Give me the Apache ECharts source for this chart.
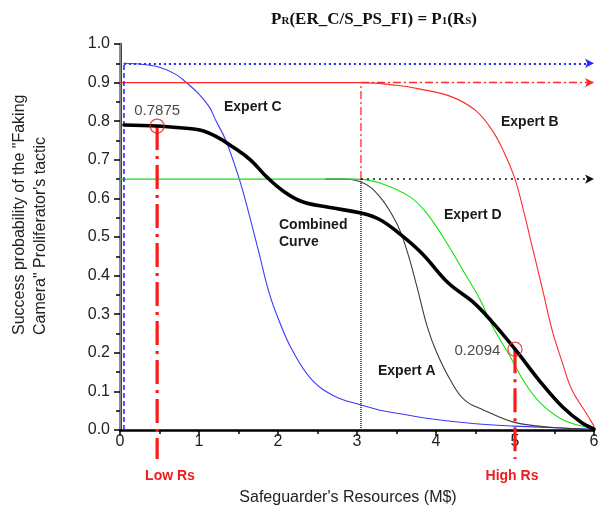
<!DOCTYPE html>
<html><head><meta charset="utf-8">
<script src="https://cdn.jsdelivr.net/npm/echarts@6/dist/echarts.min.js"></script>
<style>html,body{margin:0;padding:0;background:#fff}#c{width:602px;height:510px}</style>
</head><body><div id="c"></div>
<script>
// ---- data ----
const xTicks = [0, 1, 2, 3, 4, 5, 6];
const yTicks = [0, 0.1, 0.2, 0.3, 0.4, 0.5, 0.6, 0.7, 0.8, 0.9, 1.0];

const expertC_x = [0.05,0.3,0.5,0.7,0.83,1.0,1.13,1.21,1.34,1.51,1.63,1.76,1.89,2.01,2.18,2.43,2.73,3.05,3.28,3.6,4.0,4.5,5.0,5.5,6.0];
const expertC_y = [0.95,0.947,0.94,0.922,0.902,0.87,0.837,0.803,0.75,0.65,0.562,0.458,0.354,0.285,0.207,0.13,0.086,0.065,0.052,0.04,0.027,0.016,0.01,0.006,0.002];

const expertB_x = [0,3.05,3.5,3.8,4.2,4.5,4.71,4.86,5.0,5.1,5.2,5.35,5.47,5.6,5.72,5.9,6.0];
const expertB_y = [0.9,0.9,0.893,0.883,0.863,0.828,0.777,0.72,0.65,0.575,0.49,0.363,0.259,0.174,0.104,0.044,0.01];

const expertD_x = [0,3.0,3.29,3.67,3.88,4.09,4.34,4.56,4.72,4.94,5.1,5.32,5.61,5.95,6.0];
const expertD_y = [0.65,0.65,0.64,0.604,0.562,0.5,0.414,0.337,0.267,0.19,0.13,0.07,0.026,0.005,0.003];

const expertA_x = [2.6,2.78,3.06,3.29,3.5,3.63,3.76,3.89,4.01,4.18,4.36,4.6,4.97,5.3,5.6,6.0];
const expertA_y = [0.65,0.65,0.642,0.604,0.536,0.466,0.37,0.267,0.2,0.13,0.078,0.052,0.021,0.01,0.005,0.001];

const combined_x = [0.05,0.47,0.76,1.01,1.22,1.43,1.65,1.86,2.06,2.3,2.64,3.05,3.28,3.53,3.82,4.16,4.46,4.71,5.0,5.3,5.6,5.85,6.0];
const combined_y = [0.79,0.7875,0.783,0.777,0.76,0.733,0.70,0.655,0.62,0.592,0.577,0.562,0.546,0.51,0.458,0.38,0.333,0.28,0.2094,0.13,0.06,0.018,0.003];

// reference levels / points
const rsMarks = [0.47, 5.0];          // Low Rs, High Rs
const pMarks = [0.7875, 0.2094];      // combined curve values there
const rsNames = ['Low Rs', 'High Rs'];
const capLevels = [0.95, 0.9, 0.65];  // Expert C, Expert B, Expert D / A plateaus
const capStarts = [0.05, 3.05, 3.05];
const xMax = 6;
const belowAxis = -0.075;

const zip = (xs, ys) => xs.map((x, i) => [x, ys[i]]);
const F = '"Liberation Sans", Arial, sans-serif';
const chart = echarts.init(document.getElementById('c'), null, {renderer: 'canvas'});

function curve(name, xs, ys, color, width, z) {
  return {name, type: 'line', data: zip(xs, ys), smooth: 0.4,
    showSymbol: false, symbol: 'none', lineStyle: {color, width, cap: 'round', join: 'round'},
    z: z || 2, silent: true, animation: false};
}
function guide(points, color, width, type, arrowLevel) {
  const s = {type: 'line', data: points, symbol: 'none', showSymbol: false, clip: false,
    lineStyle: {color, width, type, cap: 'butt'}, z: 3, silent: true, animation: false};
  if (arrowLevel !== undefined) {
    s.markLine = {silent: true, animation: false, symbol: ['none', 'arrow'], symbolSize: [7, 9],
      label: {show: false}, lineStyle: {color, width, type},
      data: [[{coord: [points[0][0], arrowLevel]}, {coord: [xMax, arrowLevel]}]]};
  }
  return s;
}

const series = [
  curve('Expert C', expertC_x, expertC_y, '#3a3aff', 1.1),
  curve('Expert B', expertB_x, expertB_y, '#ff2a2a', 1.1),
  curve('Expert A', expertA_x, expertA_y, '#3c3c3c', 1.1),
  curve('Expert D', expertD_x, expertD_y, '#11e011', 1.1),
  curve('Combined', combined_x, combined_y, '#000000', 3.6, 4),
  guide([[capStarts[0], 0], [capStarts[0], capLevels[0]]], '#2a2aff', 1.6, [5, 3]),
  guide([[capStarts[0], capLevels[0]]], '#2a2aff', 2, [2, 3], capLevels[0]),
  guide([[capStarts[1], capLevels[2]], [capStarts[1], capLevels[1]]], '#ff2a2a', 1.3, [8, 3, 2, 3]),
  guide([[capStarts[1], capLevels[1]]], '#ff2a2a', 1.3, [8, 3, 2, 3], capLevels[1]),
  guide([[capStarts[2], 0], [capStarts[2], capLevels[2]]], '#333333', 1.6, [1, 1]),
  guide([[capStarts[2], capLevels[2]]], '#111111', 1.5, [2, 4], capLevels[2]),
  guide([[rsMarks[0], pMarks[0]], [rsMarks[0], belowAxis]], '#ff1a1a', 3.2, [24, 6, 3, 6]),
  guide([[rsMarks[1], pMarks[1]], [rsMarks[1], belowAxis]], '#ff1a1a', 3.2, [24, 6, 3, 6]),
  {type: 'scatter', symbol: 'circle', symbolSize: 14, z: 6, silent: true, animation: false, clip: false,
    itemStyle: {color: 'rgba(255,255,255,0)', borderColor: '#e82020', borderWidth: 1.3},
    data: [
      {value: [rsMarks[0], pMarks[0]], label: {show: true, position: 'top', distance: 0,
        formatter: String(pMarks[0]), fontSize: 15, fontFamily: F, color: '#1a1a1a'}},
      {value: [rsMarks[1], pMarks[1]], label: {show: true, position: 'left', distance: 7, offset: [0, 2],
        formatter: String(pMarks[1]), fontSize: 15, fontFamily: F, color: '#1a1a1a'}}
    ]}
];

function txt(text, x, y, opt) {
  opt = opt || {};
  return {type: 'text', x, y, z: 100, silent: true, rotation: opt.rotation || 0,
    style: Object.assign({text, fill: opt.fill || '#1a1a1a',
      font: opt.font || ('bold 14px ' + F),
      align: opt.align || 'left', verticalAlign: opt.va || 'middle',
      textAlign: opt.align || 'left', textVerticalAlign: opt.va || 'middle'}, opt.extra || {})};
}

const graphic = [
  {type: 'text', x: 374, y: 18, z: 100, silent: true,
    style: {text: '{b|P}{s|R}{b|(ER_C/S_PS_FI) = P}{s|1}{b|(R}{s|S}{b|)}',
      align: 'center', verticalAlign: 'middle', textAlign: 'center', textVerticalAlign: 'middle',
      fill: '#111',
      rich: {
        b: {font: 'bold 17px "Liberation Serif", "Times New Roman", serif', fill: '#111', verticalAlign: 'bottom', lineHeight: 20},
        s: {font: 'bold 11px "Liberation Serif", "Times New Roman", serif', fill: '#111', verticalAlign: 'bottom', lineHeight: 20, padding: [0, 0, 1, 0]}
      }}},
  txt('Success probability of the "Faking\nCamera" Proliferator\'s tactic', 30.5, 335,
    {rotation: Math.PI / 2, font: '16px ' + F, fill: '#222', extra: {lineHeight: 21}}),
  txt("Safeguarder's Resources (M$)", 348, 498, {align: 'center', font: '16px ' + F, fill: '#222'}),
  txt('Expert C', 224, 107),
  txt('Expert B', 501, 122),
  txt('Expert D', 444, 215),
  txt('Expert A', 378, 371),
  txt('Combined', 279, 225),
  txt('Curve', 279, 242),
  txt(rsNames[0], 170, 476, {align: 'center', fill: '#ee1c1c'}),
  txt(rsNames[1], 512, 476, {align: 'center', fill: '#ee1c1c'})
];

const option = {
  animation: false,
  backgroundColor: '#ffffff',
  grid: {left: 120, right: 8, top: 44, bottom: 80, containLabel: false},
  xAxis: {type: 'value', min: xTicks[0], max: xTicks[xTicks.length - 1], interval: 1,
    axisLine: {show: true, onZero: false, lineStyle: {color: '#000', width: 2.5}},
    axisTick: {show: true, inside: false, length: 6, lineStyle: {color: '#000', width: 1.5}},
    minorTick: {show: true, splitNumber: 2, length: 4, lineStyle: {color: '#000', width: 1.5}},
    axisLabel: {fontSize: 16, fontFamily: F, color: '#222', margin: 4},
    splitLine: {show: false}},
  yAxis: [
    {type: 'value', min: yTicks[0], max: yTicks[yTicks.length - 1], interval: 0.1,
      axisLine: {show: true, onZero: false, lineStyle: {color: '#000', width: 2.5}},
      axisTick: {show: true, inside: false, length: 6, lineStyle: {color: '#000', width: 1.5}},
      minorTick: {show: true, splitNumber: 2, length: 4, lineStyle: {color: '#000', width: 1.5}},
      axisLabel: {fontSize: 16, fontFamily: F, color: '#222', margin: 10,
        formatter: v => v.toFixed(1)},
      splitLine: {show: false}},
    {type: 'value', position: 'right', offset: 3, min: 0, max: 1,
      axisLine: {show: true, lineStyle: {color: '#8a8a8a', width: 2}},
      axisTick: {show: false}, axisLabel: {show: false}, splitLine: {show: false}}
  ],
  series,
  graphic
};
chart.setOption(option);
</script>
</body></html>
